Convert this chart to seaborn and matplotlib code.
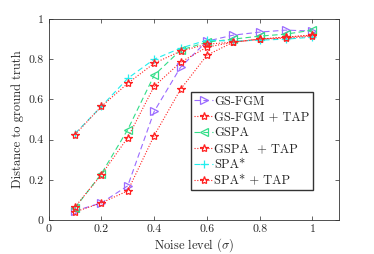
import numpy as np
import pandas as pd
import seaborn as sns
import matplotlib.pyplot as plt

noise = [0.1, 0.2, 0.3, 0.4, 0.5, 0.6, 0.7, 0.8, 0.9, 1.0]
gsfgm = [0.045, 0.085, 0.17, 0.54, 0.76, 0.89, 0.92, 0.935, 0.945, 0.94]
gsfgm_tap = [0.04, 0.085, 0.145, 0.42, 0.65, 0.82, 0.885, 0.90, 0.91, 0.92]
gspa = [0.06, 0.23, 0.45, 0.72, 0.845, 0.885, 0.90, 0.915, 0.925, 0.945]
gspa_tap = [0.065, 0.225, 0.41, 0.665, 0.785, 0.86, 0.885, 0.90, 0.91, 0.92]
spa = [0.43, 0.565, 0.705, 0.80, 0.855, 0.895, 0.89, 0.895, 0.90, 0.91]
spa_tap = [0.425, 0.565, 0.68, 0.78, 0.84, 0.875, 0.885, 0.90, 0.905, 0.915]

labels = ["GS-FGM", "GS-FGM + TAP", "GSPA", "GSPA  + TAP", "SPA*", "SPA* + TAP"]
values = [gsfgm, gsfgm_tap, gspa, gspa_tap, spa, spa_tap]

styles = [
    dict(color="#9b6bff", marker=">", linestyle=(0, (5, 3))),
    dict(color="#ff2020", marker="*", linestyle=(0, (1, 1.5))),
    dict(color="#33dd88", marker="<", linestyle=(0, (5, 3))),
    dict(color="#ff2020", marker="*", linestyle=(0, (1, 1.5))),
    dict(color="#22eeee", marker="+", linestyle=(0, (5, 3))),
    dict(color="#ff2020", marker="*", linestyle=(0, (1, 1.5))),
]

sns.set_style("white")
plt.rcParams["font.family"] = "serif"
plt.rcParams["font.serif"] = ["cmr10", "DejaVu Serif"]
plt.rcParams["mathtext.fontset"] = "cm"
plt.rcParams["axes.formatter.use_mathtext"] = True

fig = plt.figure(figsize=(3.74, 2.54), dpi=100)
ax = fig.add_axes([0.130, 0.134, 0.776, 0.791])

for lab, vals, st in zip(labels, values, styles):
    df = pd.DataFrame({"x": noise, "y": vals})
    sns.lineplot(data=df, x="x", y="y", ax=ax, label=lab, color=st["color"],
                 marker=st["marker"], linestyle=st["linestyle"], linewidth=0.8,
                 markersize=6, markerfacecolor="none",
                 markeredgecolor=st["color"], markeredgewidth=0.9)

ax.set_xlim(0, 1.1)
ax.set_ylim(0, 1)
ax.set_xticks([0, 0.2, 0.4, 0.6, 0.8, 1])
ax.set_xticklabels(["0", "0.2", "0.4", "0.6", "0.8", "1"])
ax.set_yticks([0, 0.2, 0.4, 0.6, 0.8, 1])
ax.set_yticklabels(["0", "0.2", "0.4", "0.6", "0.8", "1"])
ax.tick_params(direction="in", length=3, labelsize=8.5, top=True, right=True,
               bottom=True, left=True, width=0.5)
for sp in ax.spines.values():
    sp.set_color("#333333")
    sp.set_linewidth(0.6)
ax.set_xlabel(r"Noise level ($\sigma$)", fontsize=9, labelpad=1.5)
ax.set_ylabel("Distance to ground truth", fontsize=9, labelpad=3)

ax.legend(loc="lower right", bbox_to_anchor=(0.91, 0.149), fontsize=9,
          frameon=True, fancybox=False, edgecolor="#333333", framealpha=1,
          handlelength=1.5, handletextpad=0.1, borderpad=0.25,
          labelspacing=0.3, borderaxespad=0)

fig.savefig("out.png", dpi=100)
